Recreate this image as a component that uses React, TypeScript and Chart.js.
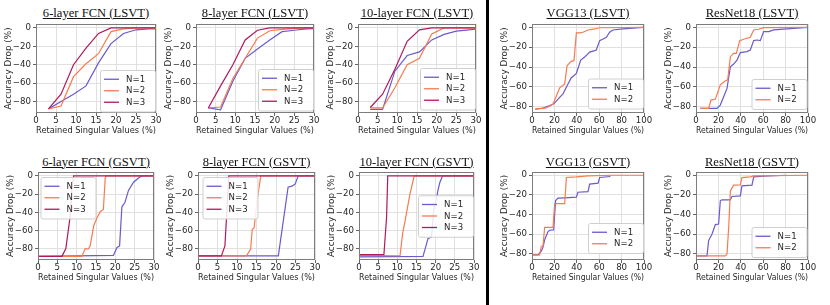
import React, { useEffect, useRef } from 'react';
import { Chart, registerables } from 'chart.js';
Chart.register(...registerables);

// ---------- colours ----------
const C1 = '#6a5acd';
const C2 = '#f77b4f';
const C3 = '#b0195c';

// ---------- tick values ----------
const yTickValues = [-80, -60, -40, -20, 0];
const fcnXTicks = [0, 5, 10, 15, 20, 25, 30];
const cnnXTicks = [0, 20, 40, 60, 80, 100];

// ---------- LSVT FCN (shared x) ----------
const lsvtX = [3.125, 6.25, 9.375, 12.5, 15.625, 18.75, 21.875, 25, 28.125, 31.25];

const fcn6LsvtN1 = [-88, -80, -72, -63, -38, -17, -6, -2, -1, -1];
const fcn6LsvtN2 = [-88, -85, -53, -39, -28, -4, -1, 0, 0, 0];
const fcn6LsvtN3 = [-88, -72, -40, -22, -6, 0, 0, 0, 0, 0];

const fcn8LsvtN1 = [-87, -89, -58, -33, -23, -13, -4, -2.5, -1, -0.5];
const fcn8LsvtN2 = [-87, -86, -55, -33, -11, -3, -1.5, -0.5, 0, 0];
const fcn8LsvtN3 = [-87, -63, -40, -13, -2.5, 0, 0, 0, 0, 0];

const fcn10LsvtN1 = [-88.5, -88.5, -47, -30, -26, -13, -7, -3.5, -2, -1];
const fcn10LsvtN2 = [-87, -87, -65, -40, -33, -6.5, 0, 0, 0, 0];
const fcn10LsvtN3 = [-86.5, -72, -45, -14.5, -2, 0, 0, 0, 0, 0];

// ---------- VGG13 LSVT ----------
const vggLsvtN1X = [3, 9.8, 19.3, 24.7, 27.7, 31.3, 35, 39.6, 43.5, 47, 51.5, 56, 57.4, 60.4, 63.4, 66.4, 69.3, 72.3, 81, 93, 100];
const vggLsvtN1Y = [-82.4, -81.3, -77.3, -70.6, -67, -58.8, -51, -46.4, -33, -30, -25, -23.5, -22.9, -13.4, -11.8, -10, -5, -2.7, -1.7, -0.7, 0];
const vggLsvtN2X = [3, 12.8, 18.8, 24.7, 29.2, 31.3, 35, 37.5, 39.6, 42.6, 45.5, 50, 56, 60.4, 100];
const vggLsvtN2Y = [-82.4, -81.3, -77.3, -61, -57, -38.7, -34.3, -33.6, -5.7, -5.7, -5, -2.7, -1.7, -0.5, 0];

// ---------- ResNet18 LSVT ----------
const resLsvtN1X = [3.9, 18.75, 21.7, 24.7, 27.7, 30.7, 33.6, 36.6, 39.6, 45.5, 48.5, 51.5, 54.5, 57.4, 60.4, 65, 69.3, 84, 100];
const resLsvtN1Y = [-81.7, -81.7, -78.3, -70, -61.5, -39.7, -37, -33, -25.5, -24.5, -22.9, -13.4, -12.8, -13.4, -4.4, -4.4, -2.7, -1.3, 0];
const resLsvtN2X = [3.9, 11.3, 13.4, 17.3, 21.7, 26, 28.3, 30.7, 33.6, 36, 39, 42.6, 48.5, 51.5, 56, 60.4, 100];
const resLsvtN2Y = [-81.7, -81.7, -73.3, -72.3, -58, -54, -53, -29.6, -26.2, -26.2, -13.4, -12, -10, -2.7, -2, -0.3, 0];

// ---------- 6-layer FCN GSVT ----------
const fcn6GsvtN1X = [0, 19.5, 20.4, 21.1, 21.7, 22.5, 23.4, 24.7, 26.4, 27.3, 31];
const fcn6GsvtN1Y = [-88.5, -87.5, -79, -77, -34, -29, -16, -7, -1, 0, 0];
const fcn6GsvtN2X = [0, 11.35, 12.2, 13.0, 13.5, 14.4, 15.2, 16.1, 16.9, 17.4, 17.6, 31];
const fcn6GsvtN2Y = [-88.5, -88.5, -80, -80.6, -77, -55, -46.6, -39.4, -37, -2, 0, 0];
const fcn6GsvtN3X = [0, 6.2, 7.2, 8.3, 8.8, 9.2, 31];
const fcn6GsvtN3Y = [-88.5, -88.5, -80, -45, -12.5, 0, 0];

// ---------- 8-layer FCN GSVT ----------
const fcn8GsvtN1X = [0, 20.6, 23.1, 24.2, 24.9, 25.7, 31];
const fcn8GsvtN1Y = [-88, -88, -12.5, -11, -9, 0, 0];
const fcn8GsvtN2X = [0, 12.4, 13.5, 13.9, 14.4, 15.0, 16.1, 31];
const fcn8GsvtN2Y = [-88, -88, -80.6, -59, -57, -32, 0, 0];
const fcn8GsvtN3X = [0, 6.0, 6.9, 7.3, 7.9, 31];
const fcn8GsvtN3Y = [-88, -88, -77, -46.6, 0, 0];

// ---------- 10-layer FCN GSVT ----------
const fcn10GsvtN1X = [0, 16.7, 17.6, 18.0, 18.9, 19.5, 20.2, 20.6, 21.1, 21.8, 31];
const fcn10GsvtN1Y = [-89, -88.5, -75, -69, -67, -37.6, -25, -16, -7, 0, 0];
const fcn10GsvtN2X = [0, 10.7, 11.4, 12.0, 13.3, 13.7, 14.4, 31];
const fcn10GsvtN2Y = [-87.5, -87.8, -62.7, -50, -19.7, -12.5, 0, 0];
const fcn10GsvtN3X = [0, 6.5, 7.2, 7.5, 31];
const fcn10GsvtN3Y = [-86.5, -86.5, -45, 0, 0];

// ---------- VGG13 GSVT ----------
const vggGsvtN1X = [0, 5.4, 8.3, 9.8, 11.3, 14.3, 15.8, 19.3, 21.1, 23.2, 29.2, 39.6, 41, 50, 51.5, 59, 60.4, 70];
const vggGsvtN1Y = [-81, -81, -77.3, -73.3, -65.7, -57.3, -56, -55.7, -25.7, -23.3, -23, -22.3, -17.3, -16.7, -9, -8, -2.3, -1.3];
const vggGsvtN2X = [0, 6.8, 8.3, 9.8, 11.3, 18.8, 20.2, 29.2, 30.7, 39.6, 50, 72, 100];
const vggGsvtN2Y = [-81, -81, -72.3, -72.3, -53, -53, -29, -29, -2.3, -1.7, -0.7, 0, 0];

// ---------- ResNet18 GSVT ----------
const resGsvtN1X = [0, 9.8, 11.3, 14.3, 17.3, 20.2, 21.7, 23.2, 30.7, 32.1, 39.6, 41, 50, 51.5, 60.4, 80];
const resGsvtN1Y = [-82, -82, -66.5, -59.8, -50.3, -49.7, -26, -25, -25, -21.6, -21, -10.8, -10.1, -1.7, -1, 0];
const resGsvtN2X = [0, 26.2, 27.7, 29.2, 30.7, 33.6, 39.6, 41, 48.5, 51.5, 100];
const resGsvtN2Y = [-82, -82, -80, -53, -16, -10.1, -9.8, -2.4, -1.7, -0.7, 0];

// ---------- labels ----------
const seriesLabels = ['N=1', 'N=2', 'N=3'];
const seriesColors = [C1, C2, C3];
const xTitle = 'Retained Singular Values (%)';
const yTitle = 'Accuracy Drop (%)';

const SANS = "'DejaVu Sans', sans-serif";
const SERIF = "'Liberation Serif', 'Times New Roman', serif";

type Series = { xs: number[]; ys: number[] };
type Panel = {
  title: string;
  L: number; R: number; T: number; B: number;
  xMax: number; xTicks: number[];
  yMin: number; yMax: number;
  series: Series[];
  legend: { loc: 'lr' | 'ul' | 'r'; dx: number; dy: number };
};

const FCN_Y = [-92.5, 4.3];
const CNN_Y = [-86.3, 3.3];
const R1 = { T: 24, B: 113 };
const R2 = { T: 172, B: 260 };

const panels: Panel[] = [
  { title: '6-layer FCN (LSVT)', L: 36, R: 156, ...R1, xMax: 30, xTicks: fcnXTicks, yMin: FCN_Y[0], yMax: FCN_Y[1],
    series: [{ xs: lsvtX, ys: fcn6LsvtN1 }, { xs: lsvtX, ys: fcn6LsvtN2 }, { xs: lsvtX, ys: fcn6LsvtN3 }],
    legend: { loc: 'lr', dx: 1, dy: 1.5 } },
  { title: '8-layer FCN (LSVT)', L: 196, R: 314, ...R1, xMax: 30, xTicks: fcnXTicks, yMin: FCN_Y[0], yMax: FCN_Y[1],
    series: [{ xs: lsvtX, ys: fcn8LsvtN1 }, { xs: lsvtX, ys: fcn8LsvtN2 }, { xs: lsvtX, ys: fcn8LsvtN3 }],
    legend: { loc: 'lr', dx: 1, dy: 2.5 } },
  { title: '10-layer FCN (LSVT)', L: 358, R: 476, ...R1, xMax: 30, xTicks: fcnXTicks, yMin: FCN_Y[0], yMax: FCN_Y[1],
    series: [{ xs: lsvtX, ys: fcn10LsvtN1 }, { xs: lsvtX, ys: fcn10LsvtN2 }, { xs: lsvtX, ys: fcn10LsvtN3 }],
    legend: { loc: 'lr', dx: 1, dy: 3.5 } },
  { title: 'VGG13 (LSVT)', L: 532, R: 644, ...R1, xMax: 100, xTicks: cnnXTicks, yMin: CNN_Y[0], yMax: CNN_Y[1],
    series: [{ xs: vggLsvtN1X, ys: vggLsvtN1Y }, { xs: vggLsvtN2X, ys: vggLsvtN2Y }],
    legend: { loc: 'lr', dx: 1, dy: 4.5 } },
  { title: 'ResNet18 (LSVT)', L: 696, R: 808, ...R1, xMax: 100, xTicks: cnnXTicks, yMin: CNN_Y[0], yMax: CNN_Y[1],
    series: [{ xs: resLsvtN1X, ys: resLsvtN1Y }, { xs: resLsvtN2X, ys: resLsvtN2Y }],
    legend: { loc: 'lr', dx: 1.5, dy: 4 } },
  { title: '6-layer FCN (GSVT)', L: 38, R: 154, ...R2, xMax: 30, xTicks: fcnXTicks, yMin: FCN_Y[0], yMax: FCN_Y[1],
    series: [{ xs: fcn6GsvtN1X, ys: fcn6GsvtN1Y }, { xs: fcn6GsvtN2X, ys: fcn6GsvtN2Y }, { xs: fcn6GsvtN3X, ys: fcn6GsvtN3Y }],
    legend: { loc: 'ul', dx: 2.5, dy: 5 } },
  { title: '8-layer FCN (GSVT)', L: 198, R: 315, ...R2, xMax: 30, xTicks: fcnXTicks, yMin: FCN_Y[0], yMax: FCN_Y[1],
    series: [{ xs: fcn8GsvtN1X, ys: fcn8GsvtN1Y }, { xs: fcn8GsvtN2X, ys: fcn8GsvtN2Y }, { xs: fcn8GsvtN3X, ys: fcn8GsvtN3Y }],
    legend: { loc: 'ul', dx: 4.5, dy: 5 } },
  { title: '10-layer FCN (GSVT)', L: 359, R: 474, ...R2, xMax: 30, xTicks: fcnXTicks, yMin: FCN_Y[0], yMax: FCN_Y[1],
    series: [{ xs: fcn10GsvtN1X, ys: fcn10GsvtN1Y }, { xs: fcn10GsvtN2X, ys: fcn10GsvtN2Y }, { xs: fcn10GsvtN3X, ys: fcn10GsvtN3Y }],
    legend: { loc: 'r', dx: 1, dy: 0 } },
  { title: 'VGG13 (GSVT)', L: 532, R: 644, ...R2, xMax: 100, xTicks: cnnXTicks, yMin: CNN_Y[0], yMax: CNN_Y[1],
    series: [{ xs: vggGsvtN1X, ys: vggGsvtN1Y }, { xs: vggGsvtN2X, ys: vggGsvtN2Y }],
    legend: { loc: 'lr', dx: 1, dy: 7 } },
  { title: 'ResNet18 (GSVT)', L: 696, R: 808, ...R2, xMax: 100, xTicks: cnnXTicks, yMin: CNN_Y[0], yMax: CNN_Y[1],
    series: [{ xs: resGsvtN1X, ys: resGsvtN1Y }, { xs: resGsvtN2X, ys: resGsvtN2Y }],
    legend: { loc: 'lr', dx: 1.5, dy: 3 } },
];

const PAD_TOP = 6, PAD_RIGHT = 8, Y_W = 33, X_H = 23;
const FS = 8.8;
const FS_TICK = 8.6;

const fmt = (v: number) => (v < 0 ? '\u2212' + Math.abs(v) : String(v));

const framePlugin = {
  id: 'frame',
  afterDatasetsDraw(chart: any) {
    const { ctx, chartArea: a } = chart;
    ctx.save();
    ctx.strokeStyle = '#7d7d7d';
    ctx.lineWidth = 1;
    ctx.strokeRect(Math.round(a.left) + 0.5, Math.round(a.top) + 0.5, Math.round(a.right - a.left) - 1, Math.round(a.bottom - a.top) - 1);
    ctx.restore();
  },
};

function makeLegend(loc: string, dx: number, dy: number) {
  return {
    id: 'boxLegend',
    afterDraw(chart: any) {
      const { ctx, chartArea: a } = chart;
      const ds = chart.data.datasets;
      const n = ds.length;
      const rowH = 11.5;
      const w = 55, h = n * rowH + 7;
      let x = 0, y = 0;
      if (loc === 'lr') { x = a.right - dx - w; y = a.bottom - dy - h; }
      else if (loc === 'ul') { x = a.left + dx; y = a.top + dy; }
      else { x = a.right - dx - w; y = (a.top + a.bottom) / 2 - h / 2 + dy; }
      ctx.save();
      ctx.beginPath();
      (ctx as any).roundRect(x + 0.5, y + 0.5, w, h, 2);
      ctx.fillStyle = 'rgba(255,255,255,0.85)';
      ctx.fill();
      ctx.strokeStyle = '#cfcfcf';
      ctx.lineWidth = 1;
      ctx.stroke();
      ctx.font = `${FS_TICK}px ${SANS}`;
      ctx.textBaseline = 'middle';
      ctx.textAlign = 'left';
      for (let i = 0; i < n; i++) {
        const cy = y + 3.5 + rowH / 2 + i * rowH;
        ctx.beginPath();
        ctx.strokeStyle = ds[i].borderColor;
        ctx.lineWidth = 1.3;
        ctx.moveTo(x + 4, cy);
        ctx.lineTo(x + 19, cy);
        ctx.stroke();
        ctx.fillStyle = '#262626';
        ctx.fillText(ds[i].label, x + 26, cy + 0.5);
      }
      ctx.restore();
    },
  };
}

function PanelChart({ p }: { p: Panel }) {
  const ref = useRef<HTMLCanvasElement>(null);
  const w = Y_W + (p.R - p.L) + PAD_RIGHT;
  const h = PAD_TOP + (p.B - p.T) + X_H;
  useEffect(() => {
    const n = p.series.length;
    const chart = new Chart(ref.current as HTMLCanvasElement, {
      type: 'line',
      data: {
        datasets: p.series.map((s, i) => ({
          label: seriesLabels[i],
          data: s.xs.map((x, k) => ({ x, y: s.ys[k] })),
          borderColor: seriesColors[i],
          backgroundColor: seriesColors[i],
          borderWidth: 1.2,
          pointRadius: 0,
          tension: 0,
          fill: false,
          order: n - i,
        })),
      },
      options: {
        animation: false,
        responsive: false,
        devicePixelRatio: 1,
        events: [],
        layout: { padding: { top: PAD_TOP, right: PAD_RIGHT, left: 0, bottom: 0 } },
        plugins: { legend: { display: false }, tooltip: { enabled: false }, title: { display: false } },
        scales: {
          x: {
            type: 'linear',
            min: 0,
            max: p.xMax,
            afterBuildTicks: (s: any) => { s.ticks = p.xTicks.map((v) => ({ value: v })); },
            afterFit: (s: any) => { s.height = X_H; s.paddingLeft = 0; s.paddingRight = 0; },
            ticks: { font: { family: SANS, size: FS_TICK }, color: '#262626', padding: 0, maxRotation: 0, autoSkip: false, callback: (v: any) => fmt(Number(v)) },
            grid: { color: '#e0e0e0', lineWidth: 1, tickColor: '#666', tickLength: 3 },
            border: { display: false },
            title: { display: true, text: xTitle, font: { family: SANS, size: FS }, color: '#262626', padding: { top: 0, bottom: 0 } },
          },
          y: {
            type: 'linear',
            min: p.yMin,
            max: p.yMax,
            afterBuildTicks: (s: any) => { s.ticks = yTickValues.map((v) => ({ value: v })); },
            afterFit: (s: any) => { s.width = Y_W; s.paddingTop = 0; s.paddingBottom = 0; },
            ticks: { font: { family: SANS, size: FS_TICK }, color: '#262626', padding: 2, callback: (v: any) => fmt(Number(v)) },
            grid: { color: '#e0e0e0', lineWidth: 1, tickColor: '#666', tickLength: 3 },
            border: { display: false },
            title: { display: true, text: yTitle, font: { family: SANS, size: FS }, color: '#262626', padding: { top: 0, bottom: 0 } },
          },
        },
      } as any,
      plugins: [framePlugin, makeLegend(p.legend.loc, p.legend.dx, p.legend.dy)],
    });
    return () => chart.destroy();
  }, []);
  return (
    <canvas
      ref={ref}
      width={w}
      height={h}
      style={{ position: 'absolute', left: p.L - Y_W, top: p.T - PAD_TOP, width: w, height: h }}
    />
  );
}

function Title({ p }: { p: Panel }) {
  const cy = p.T < 100 ? 12.7 : 161.5;
  return (
    <div
      style={{
        position: 'absolute',
        left: p.L - 40,
        width: p.R - p.L + 80,
        top: cy - 8,
        height: 16,
        lineHeight: '16px',
        textAlign: 'center',
        fontFamily: SERIF,
        fontSize: 12.6,
        textDecoration: 'underline',
        whiteSpace: 'nowrap',
        color: '#111',
      }}
    >
      {p.title}
    </div>
  );
}

export default function App() {
  return (
    <div style={{ position: 'fixed', left: 0, top: 0, width: 830, height: 305, background: '#fff', overflow: 'hidden' }}>
      {panels.map((p, i) => (
        <React.Fragment key={i}>
          <Title p={p} />
          <PanelChart p={p} />
        </React.Fragment>
      ))}
      <div style={{ position: 'absolute', left: 486, top: 0, width: 2.5, height: 305, background: '#000' }} />
    </div>
  );
}
